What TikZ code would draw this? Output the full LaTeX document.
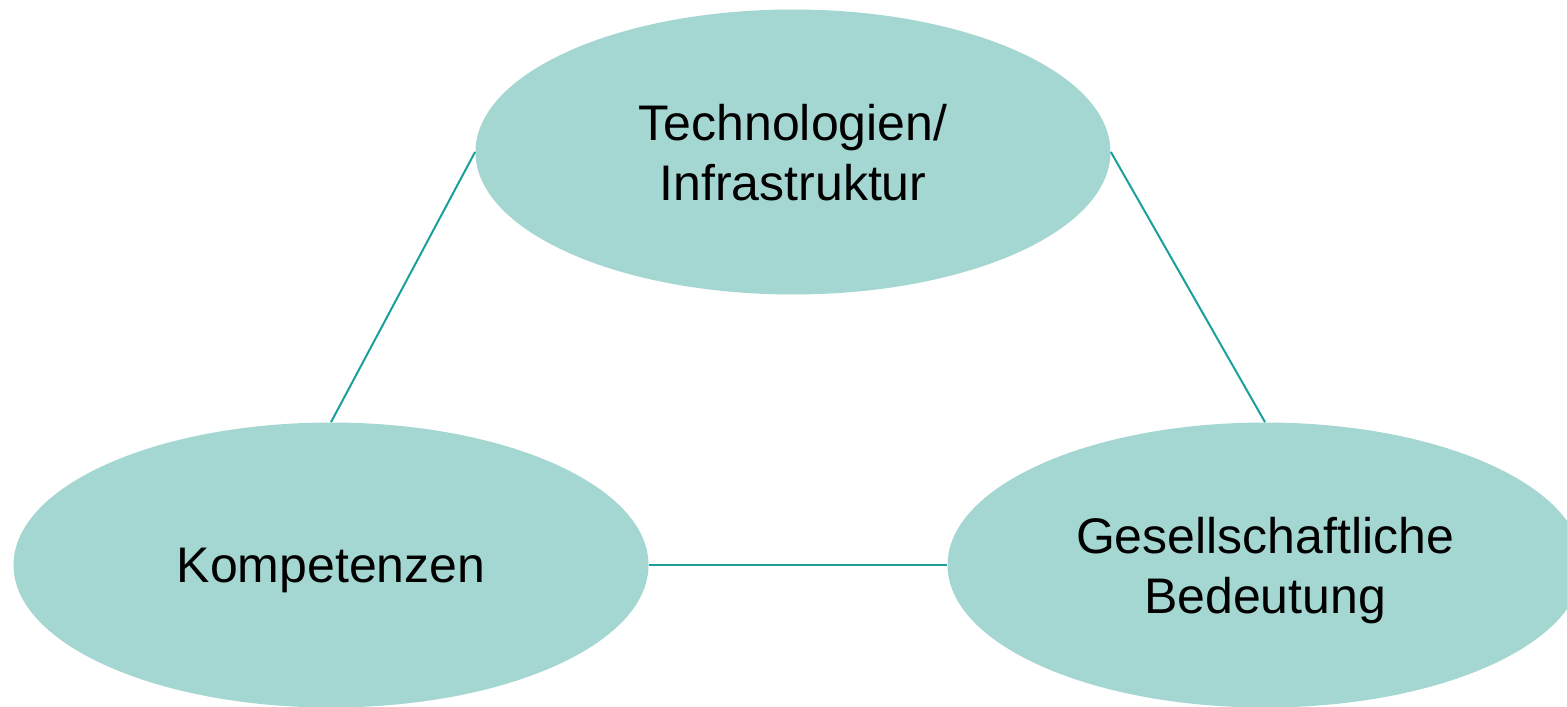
\documentclass[tikz,border=0pt]{standalone}
\usepackage{fontspec}
\setmainfont{Liberation Sans}
\usetikzlibrary{shapes.geometric}
\definecolor{bubblefill}{RGB}{165,215,210}
\definecolor{linkline}{RGB}{25,160,155}

\begin{document}
\begin{tikzpicture}[
  bubble/.style={ellipse,fill=bubblefill,draw=none,inner sep=0pt,
    minimum width=11.159cm,minimum height=5.008cm,align=center,
    text depth=0pt,font=\fontsize{25}{30}\selectfont},
  link/.style={draw=linkline,line width=1pt}]
  \useasboundingbox (0,0) rectangle (27.537,12.424);

  % Ellipses
  \node[bubble] (tech) at (13.935,9.753) {Technologien/\\Infrastruktur};
  \node[bubble] (komp) at (5.817,2.495) {Kompetenzen};
  \node[bubble] (gesell) at (22.230,2.495) {Gesellschaftliche\\Bedeutung};

  % Links
  \draw[link] (tech.west) -- (komp.north);
  \draw[link] (tech.east) -- (gesell.north);
  \draw[link] (komp.east) -- (gesell.west);
\end{tikzpicture}
\end{document}
